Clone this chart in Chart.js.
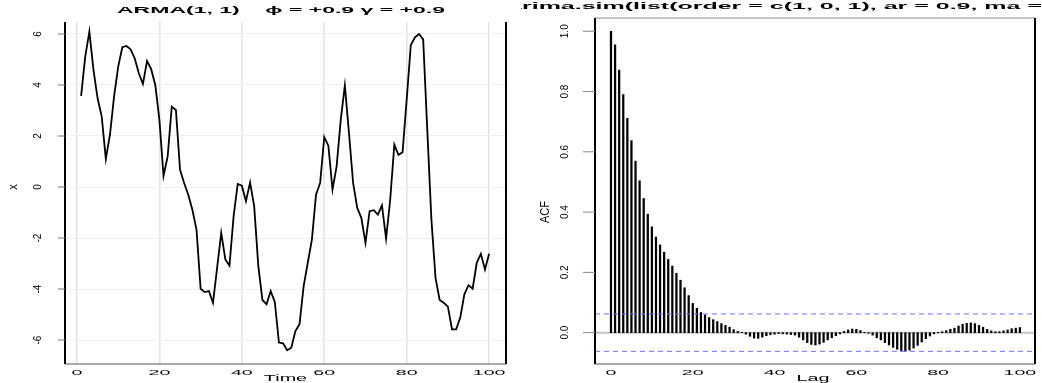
<!DOCTYPE html>
<html>
<head>
<meta charset="utf-8">
<script src="https://cdn.jsdelivr.net/npm/chart.js@4"></script>
<style>
html, body { margin: 0; padding: 0; background: #fff; }
#wrap { position: relative; width: 1042px; height: 383px; overflow: hidden; }
canvas { position: absolute; top: 0; }
</style>
</head>
<body>
<div id="wrap">
  <canvas id="tsChart" width="521" height="383" style="left:0px"></canvas>
  <canvas id="acfChart" width="521" height="383" style="left:521px"></canvas>
</div>
<script>
// simulated ARMA(1,1) series, t = 1..100
const seriesX = [
  3.57, 5.11, 6.09, 4.59, 3.48, 2.76, 1.10, 2.05, 3.55, 4.72,
  5.48, 5.53, 5.40, 5.05, 4.46, 4.04, 4.94, 4.62, 4.00, 2.63,
  0.44, 1.20, 3.15, 3.02, 0.68, 0.16, -0.30, -0.89, -1.67, -3.99,
  -4.12, -4.08, -4.54, -3.17, -1.80, -2.84, -3.08, -1.15, 0.12, 0.05,
  -0.56, 0.18, -0.76, -3.10, -4.43, -4.60, -4.08, -4.51, -6.10, -6.13,
  -6.40, -6.30, -5.65, -5.38, -3.89, -2.97, -2.06, -0.30, 0.16, 1.96,
  1.62, -0.10, 0.81, 2.63, 3.98, 2.11, 0.16, -0.82, -1.21, -2.19,
  -0.95, -0.91, -1.08, -0.72, -2.02, -0.50, 1.66, 1.26, 1.36, 3.42,
  5.57, 5.87, 6.00, 5.79, 2.24, -1.28, -3.56, -4.43, -4.54, -4.69,
  -5.58, -5.58, -5.12, -4.21, -3.85, -3.99, -2.97, -2.62, -3.23, -2.62
];

// sample ACF, lags 0..100
const acfValues = [
  1.000, 0.955, 0.871, 0.790, 0.711, 0.637, 0.569, 0.504, 0.445, 0.393,
  0.351, 0.317, 0.291, 0.267, 0.243, 0.221, 0.197, 0.174, 0.149, 0.123,
  0.097, 0.081, 0.067, 0.059, 0.050, 0.043, 0.037, 0.030, 0.024, 0.018,
  0.010, 0.004, 0.001, -0.005, -0.012, -0.018, -0.019, -0.015, -0.010, -0.007,
  -0.005, -0.003, -0.004, -0.005, -0.006, -0.008, -0.015, -0.024, -0.033, -0.039,
  -0.041, -0.038, -0.032, -0.024, -0.017, -0.010, -0.004, 0.004, 0.009, 0.012,
  0.011, 0.007, 0.001, -0.002, -0.008, -0.017, -0.024, -0.033, -0.041, -0.049,
  -0.055, -0.061, -0.062, -0.058, -0.051, -0.042, -0.031, -0.020, -0.011, -0.004,
  0.001, 0.003, 0.007, 0.011, 0.015, 0.022, 0.028, 0.031, 0.032, 0.030,
  0.024, 0.018, 0.011, 0.006, 0.003, 0.003, 0.006, 0.009, 0.013, 0.015,
  0.017
];
const ciBound = 0.062;

const timeTicks = [0, 20, 40, 60, 80, 100];
const xValueTicks = [-6, -4, -2, 0, 2, 4, 6];
const lagTicks = [0, 20, 40, 60, 80, 100];
const acfTicks = [0, 0.2, 0.4, 0.6, 0.8, 1.0];
const acfTickLabels = ['0.0', '0.2', '0.4', '0.6', '0.8', '1.0'];

const leftTitle = 'ARMA(1, 1)    \u03d5 = +0.9 \u03b3 = +0.9';
const rightTitle = 'Series arima.sim(list(order = c(1, 0, 1), ar = 0.9, ma = 0.9), n = 1000)';

const FONT = '"Liberation Sans", Arial, sans-serif';

// text in the reference is stretched sideways, so draw it through a scale
function drawText(ctx, txt, x, y, o) {
  ctx.save();
  ctx.font = (o.weight || 'normal') + ' ' + o.size + 'px ' + FONT;
  let sx = o.sx || 1;
  if (o.width) sx = o.width / ctx.measureText(o.measure || txt).width;
  ctx.translate(x, y);
  ctx.scale(sx, 1);
  if (o.rot) ctx.rotate(-Math.PI / 2);
  ctx.textAlign = o.align || 'center';
  ctx.textBaseline = 'middle';
  ctx.fillStyle = o.color || '#000';
  let dx = 0;
  if (o.skip) dx = -ctx.measureText(o.skip).width;
  ctx.fillText(txt, dx, 0);
  ctx.restore();
}

function vline(ctx, x, y1, y2, color, w) {
  ctx.save();
  ctx.strokeStyle = color; ctx.lineWidth = w;
  ctx.beginPath(); ctx.moveTo(x, y1); ctx.lineTo(x, y2); ctx.stroke();
  ctx.restore();
}
function hline(ctx, y, x1, x2, color, w) {
  ctx.save();
  ctx.strokeStyle = color; ctx.lineWidth = w;
  ctx.beginPath(); ctx.moveTo(x1, y); ctx.lineTo(x2, y); ctx.stroke();
  ctx.restore();
}

const tsDecor = {
  id: 'tsDecor',
  afterDraw(chart) {
    const ctx = chart.ctx, a = chart.chartArea;
    const xs = chart.scales.x, ys = chart.scales.y;
    vline(ctx, a.left, a.top, a.bottom, '#000', 2);
    vline(ctx, a.right, a.top, a.bottom, '#000', 2);
    hline(ctx, a.bottom, a.left, a.right, '#555', 1);
    xValueTicks.forEach(v => {
      const py = ys.getPixelForValue(v);
      hline(ctx, py, a.left - 7, a.left, '#777', 1);
      drawText(ctx, String(v), 38, py, {size: 10, sx: 1.15, rot: true});
    });
    timeTicks.forEach(v => {
      drawText(ctx, String(v), xs.getPixelForValue(v), 373, {size: 7, sx: 2.8});
    });
    drawText(ctx, 'Time', (a.left + a.right) / 2, 379, {size: 9, sx: 2.2});
    drawText(ctx, 'x', 13, ys.getPixelForValue(0), {size: 11, sx: 1.2, rot: true});
    drawText(ctx, leftTitle, 281, 11, {size: 8.5, weight: 'bold', width: 328});
  }
};

const acfDecor = {
  id: 'acfDecor',
  beforeDatasetsDraw(chart) {
    const ctx = chart.ctx, a = chart.chartArea;
    const py = chart.scales.y.getPixelForValue(0);
    hline(ctx, py, a.left, a.right, '#c4c4c4', 2);
  },
  afterDraw(chart) {
    const ctx = chart.ctx, a = chart.chartArea;
    const xs = chart.scales.x, ys = chart.scales.y;
    hline(ctx, a.top, a.left, a.right, '#888', 1);
    hline(ctx, a.bottom, a.left, a.right, '#555', 1);
    vline(ctx, a.left, a.top, a.bottom, '#000', 2);
    vline(ctx, a.right, a.top, a.bottom, '#000', 2);
    acfTicks.forEach((v, i) => {
      const py = ys.getPixelForValue(v);
      hline(ctx, py, a.left - 12, a.left, '#888', 1);
      drawText(ctx, acfTickLabels[i], 44, py, {size: 10, sx: 1.15, rot: true});
    });
    lagTicks.forEach(v => {
      drawText(ctx, String(v), xs.getPixelForValue(v), 373, {size: 7, sx: 2.8});
    });
    drawText(ctx, 'Lag', 292, 379, {size: 9, sx: 2.2});
    drawText(ctx, 'ACF', 24, ys.getPixelForValue(0.4), {size: 11, sx: 1.2, rot: true});
    // title is wider than the panel and gets cut at both edges
    drawText(ctx, rightTitle, 1, 7, {
      size: 8.5, weight: 'bold', align: 'left',
      width: 520, measure: 'rima.sim(list(order = c(1, 0, 1), ar = 0.9, ma =',
      skip: 'Series a'
    });
  }
};

function fixTicks(list) {
  return s => { s.ticks = list.map(v => ({value: v})); };
}

new Chart(document.getElementById('tsChart'), {
  type: 'line',
  data: {
    datasets: [{
      data: seriesX.map((v, i) => ({x: i + 1, y: v})),
      borderColor: '#000',
      borderWidth: 1.8,
      pointRadius: 0,
      tension: 0,
      fill: false
    }]
  },
  options: {
    responsive: false,
    animation: false,
    layout: {padding: {left: 65, right: 15, top: 22, bottom: 19}},
    plugins: {legend: {display: false}, tooltip: {enabled: false}},
    scales: {
      x: {
        type: 'linear', min: -2.91, max: 104.1,
        afterBuildTicks: fixTicks(timeTicks),
        afterFit: s => { s.height = 0; },
        ticks: {display: false},
        border: {display: false},
        grid: {color: '#e4e4e4', lineWidth: 1.6, drawTicks: false}
      },
      y: {
        min: -6.94, max: 6.47,
        afterBuildTicks: fixTicks(xValueTicks),
        afterFit: s => { s.width = 0; },
        ticks: {display: false},
        border: {display: false},
        grid: {color: '#f0f0f0', lineWidth: 1, drawTicks: false}
      }
    }
  },
  plugins: [tsDecor]
});

new Chart(document.getElementById('acfChart'), {
  type: 'bar',
  data: {
    datasets: [
      {
        type: 'line',
        data: [{x: -3.91, y: ciBound}, {x: 103.7, y: ciBound}],
        borderColor: '#6f6fff', borderWidth: 1, borderDash: [5, 4],
        pointRadius: 0, fill: false
      },
      {
        type: 'line',
        data: [{x: -3.91, y: -ciBound}, {x: 103.7, y: -ciBound}],
        borderColor: '#6f6fff', borderWidth: 1, borderDash: [5, 4],
        pointRadius: 0, fill: false
      },
      {
        type: 'bar',
        data: acfValues.map((v, i) => ({x: i, y: v})),
        backgroundColor: '#000',
        barThickness: 1.6,
        borderWidth: 0
      }
    ]
  },
  options: {
    responsive: false,
    animation: false,
    layout: {padding: {left: 74, right: 7, top: 18, bottom: 19}},
    plugins: {legend: {display: false}, tooltip: {enabled: false}},
    scales: {
      x: {
        type: 'linear', min: -3.91, max: 103.7, offset: false,
        afterBuildTicks: fixTicks(lagTicks),
        afterFit: s => { s.height = 0; },
        ticks: {display: false},
        border: {display: false},
        grid: {display: false}
      },
      y: {
        min: -0.104, max: 1.044,
        afterBuildTicks: fixTicks(acfTicks),
        afterFit: s => { s.width = 0; },
        ticks: {display: false},
        border: {display: false},
        grid: {display: false}
      }
    }
  },
  plugins: [acfDecor]
});
</script>
</body>
</html>
